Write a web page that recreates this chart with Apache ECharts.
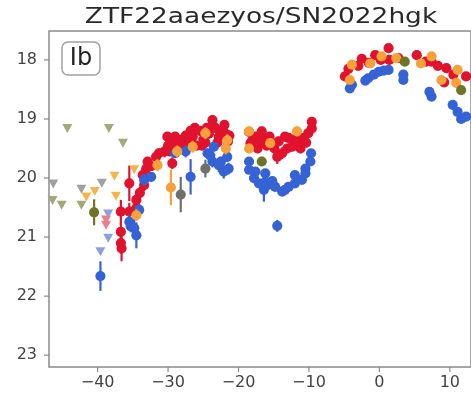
<!DOCTYPE html>
<html>
<head>
<meta charset="utf-8">
<script src="https://cdn.jsdelivr.net/npm/echarts@6/dist/echarts.min.js"></script>
<style>
  html, body { margin: 0; padding: 0; background: #fff; }
  #chart { width: 471px; height: 396px; }
</style>
</head>
<body>
<div id="chart"></div>
<script>
// Light curve of ZTF22aaezyos / SN2022hgk: [phase (days), magnitude, error]
const titleText = 'ZTF22aaezyos/SN2022hgk';
const typeLabel = 'Ib';
const xTicks = [-40, -30, -20, -10, 0, 10];
const yTicks = [18, 19, 20, 21, 22, 23];

const rBand = [
  [-36.7,20.57,0.20],[-36.7,20.91,0.15],[-36.7,21.10,0.18],[-36.6,21.19,0.22],
  [-35.5,20.09,0.30],[-35.5,20.57,0.15],[-34.5,20.37,0.15],[-34.5,20.51,0.12],[-34.0,20.25,0.10],
  [-33.6,19.95,0.10],[-33.4,20.12,0.10],[-33.1,19.84,0.08],[-32.9,19.72,0.08],[-32.4,19.80,0.08],
  [-31.7,19.64,0.08],[-31.3,19.58,0.08],[-30.5,19.55,0.10],[-30.1,19.30,0.08],[-30.0,19.45,0.08],
  [-29.8,19.55,0.08],[-29.5,19.38,0.08],[-29.4,19.75,0.10],[-29.0,19.30,0.08],[-28.8,19.50,0.08],
  [-28.5,19.45,0.08],[-28.0,19.35,0.08],[-27.8,19.50,0.08],[-27.5,19.28,0.08],[-27.0,19.40,0.08],
  [-26.8,19.20,0.08],[-26.5,19.30,0.08],[-26.2,19.15,0.08],[-26.0,19.45,0.08],[-25.5,19.20,0.08],
  [-25.2,19.45,0.08],[-25.0,19.35,0.08],[-24.7,19.40,0.08],[-24.5,19.15,0.08],[-24.2,19.25,0.08],
  [-23.7,19.02,0.08],[-23.3,19.15,0.08],[-23.0,19.40,0.08],[-22.8,19.30,0.08],[-22.3,19.20,0.08],
  [-22.0,19.10,0.08],[-21.8,19.25,0.08],[-21.5,19.38,0.08],[-21.3,19.28,0.08],
  [-18.5,19.22,0.08],[-18.3,19.41,0.08],[-18.0,19.35,0.08],[-17.6,19.30,0.08],[-17.3,19.50,0.08],
  [-17.1,19.40,0.08],[-16.7,19.21,0.08],[-16.4,19.35,0.08],[-16.0,19.45,0.08],[-15.6,19.30,0.08],
  [-15.2,19.41,0.08],[-14.9,19.50,0.08],[-14.5,19.64,0.12],[-14.3,19.38,0.08],[-13.8,19.58,0.10],
  [-13.4,19.30,0.08],[-13.1,19.50,0.08],[-12.9,19.32,0.08],[-12.4,19.47,0.08],[-12.0,19.35,0.08],
  [-11.5,19.40,0.08],[-11.2,19.50,0.08],[-10.8,19.32,0.08],[-10.4,19.40,0.08],[-10.1,19.24,0.08],
  [-9.6,19.05,0.05],[-9.6,19.16,0.05],
  [-4.9,18.28,0.04],[-4.4,18.15,0.04],[-3.0,18.10,0.04],[-2.5,17.98,0.04],[-1.5,18.05,0.04],
  [-0.6,17.92,0.04],[0.2,18.00,0.04],[1.3,17.80,0.04],[1.4,18.00,0.04],[2.7,17.97,0.04],
  [5.3,17.92,0.04],[6.6,18.03,0.04],[7.4,18.03,0.04],[8.3,18.10,0.04],[9.2,18.38,0.04],
  [9.5,18.14,0.04],[10.5,18.25,0.04],[12.3,18.28,0.04]
];

const gBand = [
  [-39.6,21.66,0.25],[-35.5,20.74,0.12],[-35.3,20.82,0.10],[-34.8,20.85,0.15],[-34.5,20.97,0.22],
  [-34.1,20.54,0.10],[-33.4,20.03,0.10],[-32.4,19.98,0.08],[-29.0,19.58,0.08],
  [-27.5,19.55,0.10],[-26.8,19.98,0.30],[-24.4,19.58,0.08],[-24.0,19.62,0.08],[-23.5,19.47,0.08],
  [-23.7,19.72,0.10],[-22.8,19.78,0.12],[-22.5,19.72,0.08],[-22.1,19.89,0.12],[-21.6,19.64,0.08],
  [-21.4,19.84,0.10],
  [-18.5,19.72,0.06],[-18.5,19.86,0.06],[-17.8,20.00,0.06],[-17.6,19.89,0.06],[-17.1,20.09,0.06],
  [-16.4,20.20,0.20],[-16.2,19.92,0.06],[-16.2,20.06,0.06],[-15.9,20.12,0.06],[-15.2,20.05,0.06],
  [-14.8,20.15,0.06],[-14.5,20.81,0.10],[-13.8,20.23,0.06],[-13.4,20.20,0.06],[-12.9,20.15,0.06],
  [-12.0,19.95,0.06],[-12.0,20.09,0.06],[-11.0,20.03,0.06],[-10.5,19.84,0.06],[-10.5,19.92,0.06],
  [-9.8,19.72,0.06],[-9.7,19.58,0.06],
  [-4.2,18.48,0.04],[-3.9,18.42,0.04],[-2.0,18.35,0.04],[-1.6,18.31,0.04],[-0.8,18.25,0.04],
  [-0.1,18.20,0.04],[0.6,18.18,0.04],[1.3,18.17,0.04],[3.4,18.25,0.04],[3.4,18.34,0.04],
  [7.1,18.54,0.04],[7.4,18.62,0.04],[10.4,18.76,0.04],[11.1,18.88,0.04],[11.6,19.00,0.04],
  [12.3,18.96,0.04]
];

const oBand = [
  [-34.5,20.63,0.10],[-31.5,19.78,0.10],[-29.6,20.16,0.30],[-28.7,19.55,0.10],[-26.5,19.47,0.10],
  [-24.7,19.24,0.10],[-21.8,19.50,0.10],[-21.6,19.36,0.10],
  [-18.5,19.21,0.08],[-18.5,19.50,0.08],[-15.5,19.41,0.08],[-11.7,19.21,0.08],
  [-4.2,18.34,0.05],[-3.9,18.08,0.05],[-1.3,18.06,0.05],[0.3,17.94,0.05],[2.4,17.97,0.05],
  [5.9,18.06,0.05],[7.4,17.94,0.05],[8.8,18.34,0.05],[10.9,18.39,0.05],[11.1,18.17,0.05]
];

const grayBand = [[-28.2,20.28,0.30],[-24.7,19.84,0.15]];
const oliveBand = [[-40.5,20.58,0.22],[-16.7,19.72,0.08],[3.6,18.03,0.05],[11.6,18.51,0.05]];

// Non-detections (upper limits), drawn as down-pointing triangles
const limKhaki = [[-44.3,19.16],[-38.4,19.16],[-36.4,19.41],[-46.4,20.38],[-45.1,20.46],[-42.3,20.46]];
const limGray = [[-46.3,20.10],[-42.3,20.19],[-39.4,20.09]];
const limOrange = [[-41.6,20.32],[-40.4,20.23],[-37.6,19.97],[-37.4,20.31],[-34.8,19.86]];
const limBlue = [[-38.5,20.61],[-38.5,21.02],[-39.6,21.25]];
const limPink = [[-38.8,20.71],[-38.8,20.80]];

const chart = echarts.init(document.getElementById('chart'));

function pointWithError(color) {
  return function (params, api) {
    const x = api.value(0), y = api.value(1), e = api.value(2);
    const c = api.coord([x, y]);
    const hi = api.coord([x, y - e]);
    const lo = api.coord([x, y + e]);
    return {
      type: 'group',
      children: [
        { type: 'line', shape: { x1: c[0], y1: hi[1], x2: c[0], y2: lo[1] },
          style: { stroke: color, lineWidth: 2.2 } },
        { type: 'circle', shape: { cx: c[0], cy: c[1], r: 5.1 }, style: { fill: color } }
      ]
    };
  };
}

function bandSeries(data, color) {
  return { type: 'custom', data: data, clip: true, renderItem: pointWithError(color),
           encode: { x: 0, y: 1 }, silent: true };
}

function limitSeries(data, color) {
  return { type: 'scatter', data: data, symbol: 'triangle', symbolRotate: 180,
           symbolSize: [10, 9], itemStyle: { color: color, opacity: 1 }, silent: true };
}

const axisGray = '#8a8a8a';
const fmt = v => (v < 0 ? '\u2212' + Math.abs(v) : String(v));

chart.setOption({
  animation: false,
  grid: { left: 49, top: 31, right: -2, bottom: 29, show: true,
          borderColor: axisGray, borderWidth: 1.5, backgroundColor: 'transparent' },
  xAxis: {
    type: 'value', min: -46.9, max: 13.0,
    splitLine: { show: false }, axisLine: { show: false }, axisTick: { show: false },
    axisLabel: { customValues: xTicks, formatter: fmt, margin: 8,
                 fontFamily: 'DejaVu Sans', fontSize: 16, color: '#444' }
  },
  yAxis: {
    type: 'value', inverse: true, min: 17.51, max: 23.2,
    splitLine: { show: false }, axisLine: { show: false }, axisTick: { show: false },
    axisLabel: { customValues: yTicks, margin: 12,
                 fontFamily: 'DejaVu Sans', fontSize: 16, color: '#444' }
  },
  series: [
    limitSeries(limKhaki, '#a4a878'),
    limitSeries(limGray, '#a0a0a0'),
    limitSeries(limOrange, '#f6b54c'),
    limitSeries(limBlue, '#8e9fe0'),
    limitSeries(limPink, '#e8808f'),
    bandSeries(rBand, '#e0122d'),
    bandSeries(gBand, '#3562d4'),
    bandSeries(oBand, '#f8a03a'),
    bandSeries(grayBand, '#6e706e'),
    bandSeries(oliveBand, '#6f7429')
  ]
});

// Outward tick marks placed through the axes' own scales
const tickMarks = [];
const x0 = chart.convertToPixel({ gridIndex: 0 }, [-46.9, 23.2]);
xTicks.forEach(v => {
  const p = chart.convertToPixel({ xAxisIndex: 0 }, v);
  tickMarks.push({ type: 'line', shape: { x1: p, y1: x0[1], x2: p, y2: x0[1] + 5 },
                   style: { stroke: axisGray, lineWidth: 1.2 } });
});
yTicks.forEach(v => {
  const p = chart.convertToPixel({ yAxisIndex: 0 }, v);
  tickMarks.push({ type: 'line', shape: { x1: x0[0] - 5, y1: p, x2: x0[0], y2: p },
                   style: { stroke: axisGray, lineWidth: 1.2 } });
});

chart.setOption({
  graphic: [
    { type: 'text', x: 261, y: 17, scaleX: 1.2, z: 10,
      style: { text: titleText, font: '22px "DejaVu Sans"', fill: '#2a2a2a',
               textAlign: 'center', textVerticalAlign: 'middle' } },
    { type: 'rect', shape: { x: 62, y: 42, width: 38, height: 33, r: 6 }, z: 10,
      style: { fill: '#fff', stroke: '#a0a0a0', lineWidth: 1.5 } },
    { type: 'text', x: 81, y: 59, z: 11,
      style: { text: typeLabel, font: '24px "DejaVu Sans"', fill: '#222',
               textAlign: 'center', textVerticalAlign: 'middle' } }
  ].concat(tickMarks)
});
</script>
</body>
</html>
